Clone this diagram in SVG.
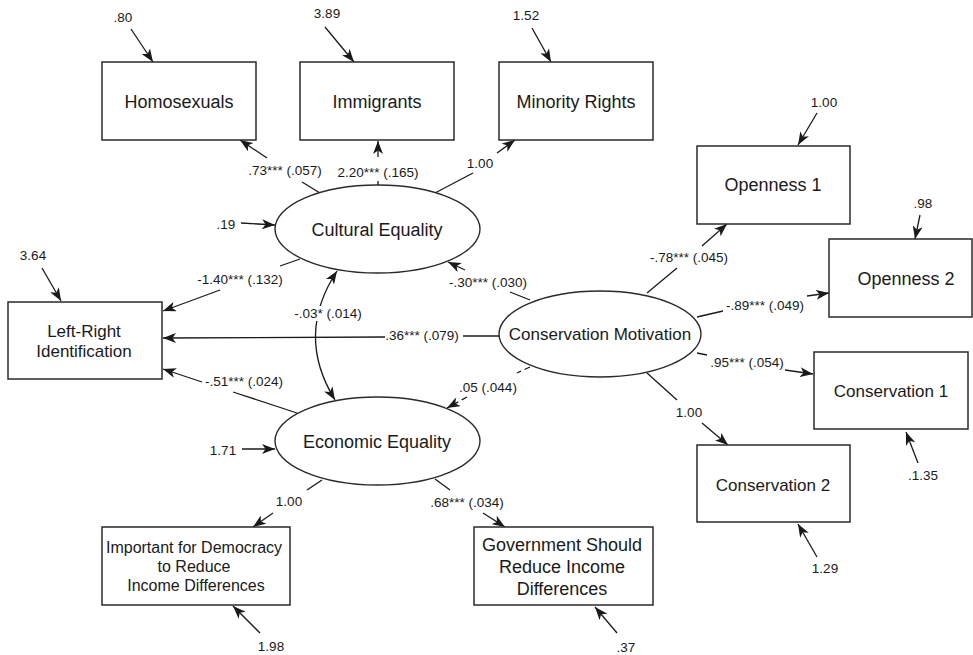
<svg xmlns="http://www.w3.org/2000/svg" width="973" height="655" viewBox="0 0 973 655">
<style>
.box{fill:#fff;stroke:#2a2a2a;stroke-width:1.5}
.lat{fill:#fff;stroke:#2a2a2a;stroke-width:1.4}
.t{font-family:"Liberation Sans",Arial,sans-serif;font-size:18px;fill:#1a1a1a;text-anchor:middle}
.t17{font-size:17px}
.t16{font-size:16px}
.s{font-family:"Liberation Sans",Arial,sans-serif;font-size:13.5px;fill:#1a1a1a;text-anchor:middle}
.c{fill:none;stroke:#1a1a1a;stroke-width:1.3}
.a{marker-end:url(#ah)}
.d{stroke-dasharray:6 4}
</style>
<defs>
<marker id="ah" viewBox="0 0 13 10" refX="13" refY="5" markerWidth="13" markerHeight="10" orient="auto-start-reverse" markerUnits="userSpaceOnUse">
<path d="M0,0 L13,5 L0,10 L3.5,5 z" fill="#1a1a1a"/>
</marker>
</defs>
<rect width="973" height="655" fill="#fff"/>

<g id="connectors">
<!-- error terms -->
<path class="c a" d="M131,29 L153,62"/>
<path class="c a" d="M325,27 L354,62"/>
<path class="c a" d="M532,28 L551,62"/>
<path class="c a" d="M817,113 L798,145"/>
<path class="c a" d="M920,215 L915,239"/>
<path class="c a" d="M42,268 L61,301"/>
<path class="c a" d="M241,223 L275,225"/>
<path class="c a" d="M242,449 L275,449"/>
<path class="c a" d="M260,633 L233,606"/>
<path class="c a" d="M617,633 L595,607"/>
<path class="c a" d="M817,557 L798,524"/>
<path class="c a" d="M918,463 L906,432"/>
<!-- loadings -->
<path class="c" d="M320,193 L302,182"/><path class="c a" d="M267,158 L240,140"/>
<path class="c" d="M378,185 L378,181"/><path class="c a" d="M378,157 L378,141"/>
<path class="c" d="M435,193 L473,173"/><path class="c a" d="M497,153 L515,140"/>
<path class="c" d="M647,293 L677,268"/><path class="c a" d="M702,246 L727,224"/>
<path class="c" d="M697,317 L723,311"/><path class="c a" d="M807,296 L829,293"/>
<path class="c" d="M697,353 L707,355"/><path class="c a" d="M785,370 L813,374"/>
<path class="c" d="M647,373 L677,400"/><path class="c a" d="M702,423 L728,445"/>
<path class="c" d="M322,480 L307,490"/><path class="c a" d="M273,513 L253,527"/>
<path class="c" d="M435,479 L450,490"/><path class="c a" d="M483,513 L505,527"/>
<!-- structural -->
<path class="c" d="M300,259 L280,266"/><path class="c a" d="M220,290 L163,311"/>
<path class="c" d="M499,336 L463,336"/><path class="c a" d="M385,337 L163,338"/>
<path class="c" d="M297,413 L233,392"/><path class="c a" d="M202,382 L163,369"/>
<path class="c" d="M530,300 L510,292"/><path class="c a" d="M465,270 L448,262"/>
<path class="c d" d="M530,367 L517,373"/><path class="c a d" d="M467,397 L447,408"/>
<path class="c a" style="marker-start:url(#ah)" d="M337,271 Q295,335 335,400"/>
<rect x="293" y="306" width="70" height="15" fill="#fff"/>
</g>

<g id="labels">
<text class="s" x="123" y="22">.80</text>
<text class="s" x="327" y="18">3.89</text>
<text class="s" x="526" y="20">1.52</text>
<text class="s" x="824" y="107">1.00</text>
<text class="s" x="923" y="208">.98</text>
<text class="s" x="33" y="260">3.64</text>
<text class="s" x="226" y="229">.19</text>
<text class="s" x="223" y="455">1.71</text>
<text class="s" x="271" y="651">1.98</text>
<text class="s" x="626" y="652">.37</text>
<text class="s" x="825" y="573">1.29</text>
<text class="s" x="923" y="480">.1.35</text>
<text class="s" x="285" y="175">.73*** (.057)</text>
<text class="s" x="378" y="177">2.20*** (.165)</text>
<text class="s" x="480" y="168">1.00</text>
<text class="s" x="689" y="262">-.78*** (.045)</text>
<text class="s" x="765" y="310">-.89*** (.049)</text>
<text class="s" x="747" y="367">.95*** (.054)</text>
<text class="s" x="689" y="417">1.00</text>
<text class="s" x="289" y="506">1.00</text>
<text class="s" x="467" y="507">.68*** (.034)</text>
<text class="s" x="240" y="284">-1.40*** (.132)</text>
<text class="s" x="422" y="340">.36*** (.079)</text>
<text class="s" x="244" y="386">-.51*** (.024)</text>
<text class="s" x="488" y="287">-.30*** (.030)</text>
<text class="s" x="488" y="392">.05 (.044)</text>
<text class="s" x="328" y="318">-.03* (.014)</text>
</g>

<g id="homosexuals"><rect class="box" x="102" y="62" width="154" height="78"/><text class="t" x="179" y="108">Homosexuals</text></g>
<g id="immigrants"><rect class="box" x="300" y="62" width="154" height="78"/><text class="t" x="377" y="108">Immigrants</text></g>
<g id="minority-rights"><rect class="box" x="499" y="62" width="154" height="78"/><text class="t" x="576" y="108">Minority Rights</text></g>
<g id="openness1"><rect class="box" x="697" y="146" width="153" height="78"/><text class="t" x="773" y="191">Openness 1</text></g>
<g id="openness2"><rect class="box" x="829" y="239" width="143" height="78"/><text class="t" x="906" y="285">Openness 2</text></g>
<g id="conservation1"><rect class="box" x="814" y="352" width="154" height="77"/><text class="t t17" x="891" y="397">Conservation 1</text></g>
<g id="conservation2"><rect class="box" x="697" y="445" width="153" height="77"/><text class="t t17" x="773" y="491">Conservation 2</text></g>
<g id="left-right"><rect class="box" x="8" y="302" width="154" height="77"/><text class="t t17" x="84" y="337">Left-Right</text><text class="t t17" x="84" y="357">Identification</text></g>
<g id="important-democracy"><rect class="box" x="102" y="527" width="188" height="78"/><text class="t t16" x="194" y="553">Important for Democracy</text><text class="t t16" x="194" y="572">to Reduce</text><text class="t t16" x="196" y="591">Income Differences</text></g>
<g id="government-reduce"><rect class="box" x="474" y="527" width="179" height="78"/><text class="t" x="562" y="551">Government Should</text><text class="t" x="562" y="573">Reduce Income</text><text class="t" x="562" y="595">Differences</text></g>
<g id="cultural-equality"><ellipse class="lat" cx="377.5" cy="229" rx="102.5" ry="44"/><text class="t" x="377" y="236">Cultural Equality</text></g>
<g id="economic-equality"><ellipse class="lat" cx="377.5" cy="441" rx="102.5" ry="44"/><text class="t" x="377" y="448">Economic Equality</text></g>
<g id="conservation-motivation"><ellipse class="lat" cx="600" cy="334" rx="101" ry="43"/><text class="t t17" x="600" y="340">Conservation Motivation</text></g>
</svg>
